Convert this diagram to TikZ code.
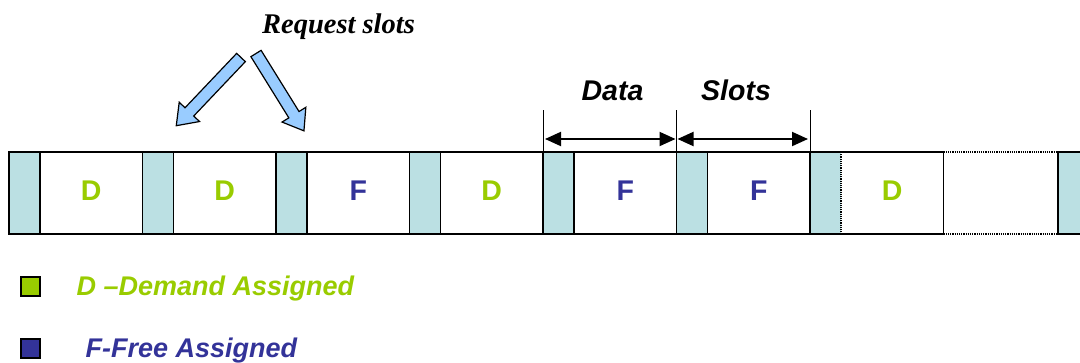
\documentclass[tikz,border=0pt]{standalone}
\usepackage{fontspec}
\setmainfont{Liberation Serif}
\setsansfont{Liberation Sans}
\usetikzlibrary{arrows.meta}

\definecolor{guardteal}{HTML}{BBE0E3}
\definecolor{dgreen}{HTML}{99CC00}
\definecolor{fblue}{HTML}{333399}
\definecolor{reqblue}{HTML}{99CCFF}

\tikzset{
  cell/.style={draw=black, line width=1.5pt, minimum height=82pt, inner sep=0pt,
               outer sep=0pt, anchor=north west},
  guard/.style={cell, fill=guardteal, minimum width=31pt},
  dslot/.style={cell, fill=white, minimum width=102.5pt},
  slotletter/.style={font=\sffamily\bfseries\fontsize{28.5}{30}\selectfont, anchor=base},
  dletter/.style={slotletter, text=dgreen},
  fletter/.style={slotletter, text=fblue},
  dimlabel/.style={font=\sffamily\bfseries\itshape\fontsize{28.5}{30}\selectfont, anchor=base},
  dimline/.style={line width=0.9pt},
  dimarrow/.style={line width=2pt, {Triangle[length=16pt,width=14pt]}-{Triangle[length=16pt,width=14pt]}},
  reqarrow/.style={draw=black, fill=reqblue, line width=1.2pt, line join=miter},
  legendbox/.style={draw=black, line width=1.5pt, minimum width=19pt, minimum height=19pt,
                    inner sep=0pt, anchor=north west},
  legendtext/.style={font=\sffamily\bfseries\itshape\fontsize{27}{29}\selectfont, anchor=base west}
}

\begin{document}
\begin{tikzpicture}[x=1pt, y=-1pt]
  \useasboundingbox (0,0) rectangle (1080,362);

  % frame: guard bands and data slots
  \node[guard] (g1) at (9,152) {};
  \node[dslot] (s1) at (40,152) {};
  \node[guard] (g2) at (142.5,152) {};
  \node[dslot] (s2) at (173.5,152) {};
  \node[guard] (g3) at (276,152) {};
  \node[dslot] (s3) at (307,152) {};
  \node[guard] (g4) at (409.5,152) {};
  \node[dslot] (s4) at (440.5,152) {};
  \node[guard] (g5) at (543,152) {};
  \node[dslot] (s5) at (574,152) {};
  \node[guard] (g6) at (676.5,152) {};
  \node[dslot] (s6) at (707.5,152) {};

  % last guard band, its right edge dotted
  \fill[guardteal] (810,152) rectangle (841,234);
  \draw[line width=1.5pt] (841,152) -- (810,152) -- (810,234) -- (841,234);
  \draw[line width=1.2pt, densely dotted] (841,152) -- (841,234);
  \coordinate (g7) at (810,152);

  % last slot, open on its left side
  \draw[line width=1.5pt] (841,152) -- (943.5,152) -- (943.5,234) -- (841,234);
  \node[inner sep=0pt] (s7) at (892.25,193) {};

  % continuation of the frame
  \draw[line width=1.2pt, densely dotted] (943.5,152) -- (1058,152);
  \draw[line width=1.2pt, densely dotted] (943.5,234) -- (1058,234);
  \fill[guardteal] (1058,152) rectangle (1081,234);
  \draw[line width=1.5pt] (1081,152) -- (1058,152) -- (1058,234) -- (1081,234);

  % slot letters
  \node[dletter] at ([yshift=-7pt]s1.center) {D};
  \node[dletter] at ([yshift=-7pt]s2.center) {D};
  \node[fletter] at ([yshift=-7pt]s3.center) {F};
  \node[dletter] at ([yshift=-7pt]s4.center) {D};
  \node[fletter] at ([yshift=-7pt]s5.center) {F};
  \node[fletter] at ([yshift=-7pt]s6.center) {F};
  \node[dletter] at ([yshift=-7pt]s7.center) {D};

  % dimension lines over the data slots
  \draw[dimline] (g5.north west) -- ++(0,-42) coordinate (t5);
  \draw[dimline] (g6.north west) -- ++(0,-42) coordinate (t6);
  \draw[dimline] (g7) -- ++(0,-42) coordinate (t7);
  \coordinate (a5) at ([yshift=13pt]g5.north west);
  \coordinate (a6) at ([yshift=13pt]g6.north west);
  \coordinate (a7) at ([yshift=13pt]g7);
  \draw[dimarrow] ([xshift=2pt]a5) -- ([xshift=-1pt]a6);
  \draw[dimarrow] ([xshift=1pt]a6) -- ([xshift=-2pt]a7);
  \node[dimlabel] (data) at (612.5,100) {Data};
  \node[dimlabel] (slots) at (736,100) {Slots};

  % request slot label and block arrows
  \node[font=\bfseries\itshape\fontsize{28.5}{30}\selectfont, anchor=base] (req) at (338.5,33) {Request slots};
  \begin{scope}[shift={(241,57.5)}, rotate=226.5]
    \draw[reqarrow] (0,6) -- (75,6) -- (75,14) -- (94,0) -- (75,-14) -- (75,-6) -- (0,-6) -- cycle;
  \end{scope}
  \begin{scope}[shift={(256,53.5)}, rotate=-58.2]
    \draw[reqarrow] (0,6) -- (72,6) -- (72,14) -- (91,0) -- (72,-14) -- (72,-6) -- (0,-6) -- cycle;
  \end{scope}

  % legend
  \node[legendbox, fill=dgreen] (kd) at (20,276) {};
  \node[legendbox, fill=fblue] (kf) at (20,338) {};
  \node[legendtext, text=dgreen] (kdt) at (73,295) {D --Demand Assigned};
  \node[legendtext, text=fblue] (kft) at (82,357) {F-Free Assigned};
\end{tikzpicture}
\end{document}
